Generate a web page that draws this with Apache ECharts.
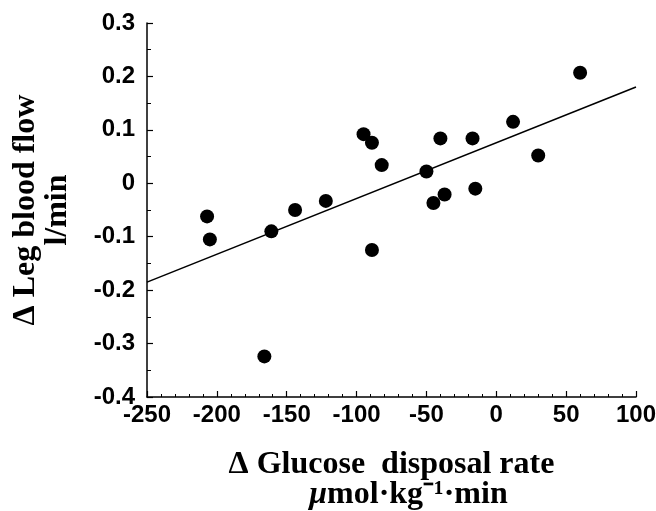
<!DOCTYPE html>
<html>
<head>
<meta charset="utf-8">
<script src="https://cdn.jsdelivr.net/npm/echarts@6/dist/echarts.min.js"></script>
<style>
  html, body { margin: 0; padding: 0; background: #fff; }
  #chart { width: 656px; height: 511px; }
</style>
</head>
<body>
<div id="chart"></div>
<script>
// 每个点: [葡萄糖处置率变化, 腿部血流变化]
const glucoseRate = [-207, -205, -166, -161, -144, -122, -95, -89, -89, -82, -50, -45, -40, -37, -17, -15, 12, 30, 60];
const legFlow = [-0.062, -0.105, -0.324, -0.090, -0.050, -0.033, 0.092, 0.076, -0.125, 0.034, 0.022, -0.037, 0.084, -0.021, 0.084, -0.010, 0.115, 0.052, 0.207];
// 回归线两端
const fitX = [-250, 100];
const fitY = [-0.185, 0.180];

const points = glucoseRate.map((x, i) => [x, legFlow[i]]);
const fitLine = fitX.map((x, i) => [x, fitY[i]]);

const ink = "#000";
const sans = "'Liberation Sans', Arial, sans-serif";
const serif = "'Liberation Serif', 'Times New Roman', serif";

const chart = echarts.init(document.getElementById("chart"), null, { renderer: "canvas" });

chart.setOption({
  animation: false,
  grid: { left: 147, right: 20, top: 23, bottom: 114, containLabel: false, outerBoundsMode: "none" },
  xAxis: {
    type: "value",
    min: -250,
    max: 100,
    interval: 50,
    splitLine: { show: false },
    axisLine: { onZero: false, lineStyle: { color: ink, width: 1.5 } },
    axisTick: { inside: true, length: 6, lineStyle: { color: ink, width: 1.2 } },
    minorTick: { show: true, splitNumber: 5, length: 3, lineStyle: { color: ink, width: 1 } },
    axisLabel: { color: ink, fontFamily: sans, fontWeight: "bold", fontSize: 24, margin: 6 },
    name: "{a|Δ Glucose  disposal rate}\n{mu|μ}{b|mol·kg⁻¹·min}",
    nameLocation: "middle",
    nameGap: 53,
    nameTextStyle: {
      rich: {
        a: { fontFamily: serif, fontWeight: "bold", fontSize: 32, color: ink, lineHeight: 30 },
        mu: { fontFamily: serif, fontWeight: "bold", fontStyle: "italic", fontSize: 32, color: ink, lineHeight: 30, padding: [0, 0, 0, 34] },
        b: { fontFamily: serif, fontWeight: "bold", fontSize: 32, color: ink, lineHeight: 30 },
      },
    },
  },
  yAxis: {
    type: "value",
    min: -0.4,
    max: 0.3,
    interval: 0.1,
    splitLine: { show: false },
    axisLine: { onZero: false, lineStyle: { color: ink, width: 1.5 } },
    axisTick: { inside: true, length: 6, lineStyle: { color: ink, width: 1.2 } },
    minorTick: { show: true, splitNumber: 2, length: 4, lineStyle: { color: ink, width: 1 } },
    axisLabel: {
      color: ink, fontFamily: sans, fontWeight: "bold", fontSize: 24, margin: 12,
      formatter: (v) => {
        const r = Math.round(v * 10) / 10;
        return r === 0 ? "0" : r.toFixed(1);
      },
    },
    name: "{a|Δ Leg blood flow}\n{a|l/min}",
    nameLocation: "middle",
    nameRotate: 90,
    nameGap: 73,
    nameTextStyle: {
      rich: {
        a: { fontFamily: serif, fontWeight: "bold", fontSize: 32, color: ink, lineHeight: 32 },
      },
    },
  },
  series: [
    {
      type: "line",
      data: fitLine,
      showSymbol: false,
      symbol: "none",
      lineStyle: { color: ink, width: 1.6 },
      silent: true,
      z: 1,
    },
    {
      type: "scatter",
      data: points,
      symbol: "circle",
      symbolSize: 14,
      itemStyle: { color: ink, opacity: 1 },
      z: 2,
    },
  ],
});
</script>
</body>
</html>
